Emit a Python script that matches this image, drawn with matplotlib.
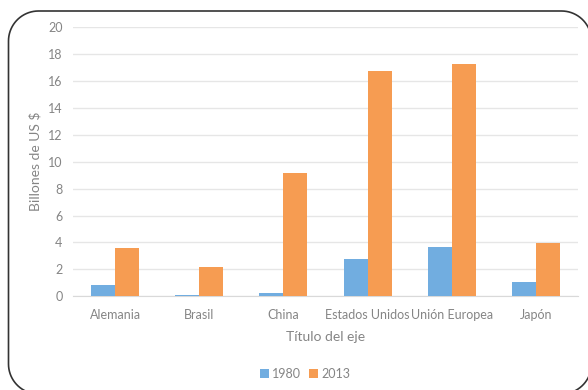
import numpy as np
import matplotlib.pyplot as plt
from matplotlib.path import Path
from matplotlib.patches import PathPatch
from matplotlib.transforms import IdentityTransform

paises = ["Alemania", "Brasil", "China", "Estados Unidos", "Unión Europea", "Japón"]
v1980 = [0.82, 0.13, 0.28, 2.77, 3.67, 1.06]
v2013 = [3.62, 2.2, 9.12, 16.73, 17.25, 3.99]

azul = "#71ADE0"
naranja = "#F69C52"
gris = "#858585"

plt.rcParams["font.family"] = ["Lato", "DejaVu Sans"]

fig = plt.figure(figsize=(5.88, 3.90), dpi=100)
ax = fig.add_axes([73/588, 1 - 296.3/390, (578-73)/588, 269.3/390])

x = np.arange(len(paises))
w = 24/84
ax.bar(x - w/2, v1980, w, color=azul, label="1980", zorder=3)
ax.bar(x + w/2, v2013, w, color=naranja, label="2013", zorder=3)

ax.set_xlim(-0.5, len(paises) - 0.5)
ax.set_ylim(0, 20)
ax.set_yticks(range(0, 21, 2))
ax.set_xticks(x)
ax.set_xticklabels(paises)
ax.tick_params(length=0, colors=gris, labelsize=9, pad=9)
ax.tick_params(axis="y", pad=7.5)
ax.grid(axis="y", color="#E6E6E6", linewidth=1, zorder=0)
for s in ["top", "right", "left"]:
    ax.spines[s].set_visible(False)
ax.spines["bottom"].set_color("#D9D9D9")

ax.set_xlabel("Título del eje", color=gris, fontsize=10, labelpad=7)
ax.set_ylabel("Billones de US $", color=gris, fontsize=10, labelpad=5)

fig.legend(loc="center", bbox_to_anchor=(305/588, 1 - 374/390), ncol=2,
           frameon=False, fontsize=9, labelcolor=gris, handlelength=0.7,
           handleheight=0.7, handletextpad=0.3, columnspacing=0.6)

# marco redondeado (en píxeles); el borde derecho queda fuera de la imagen
x0, x1, y0, y1, r = 8.5, 591.5, -4, 379, 30
t = np.linspace(0, np.pi / 2, 20)
arco = lambda cx, cy, a: np.c_[cx + r * np.cos(t + a), cy + r * np.sin(t + a)]
pts = np.vstack([
    arco(x1 - r, y1 - r, 0),
    arco(x0 + r, y1 - r, np.pi / 2),
    arco(x0 + r, y0 + r, np.pi),
    arco(x1 - r, y0 + r, 3 * np.pi / 2),
])
marco = PathPatch(Path(pts, closed=False), transform=IdentityTransform(),
                  facecolor="none", edgecolor="#333333", linewidth=1.2,
                  clip_on=False)
fig.patches.append(marco)

fig.savefig("out.png", dpi=100)
